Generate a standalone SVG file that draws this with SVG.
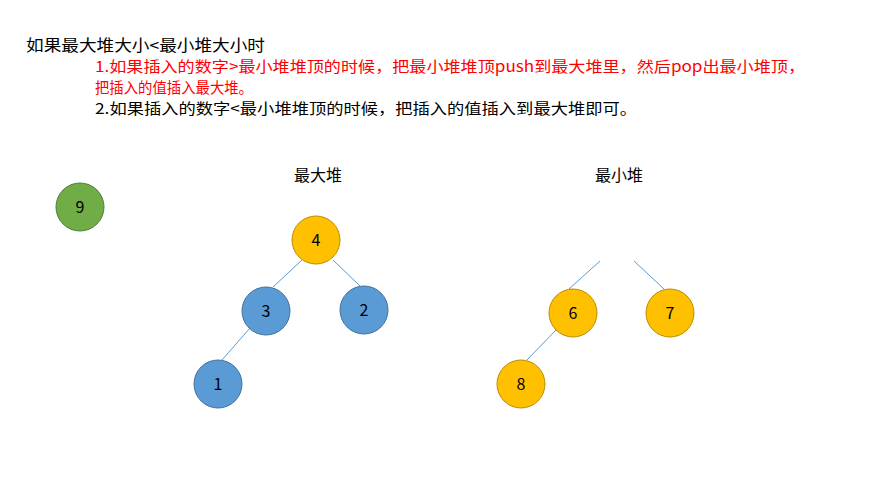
<svg xmlns="http://www.w3.org/2000/svg" width="891" height="477" viewBox="0 0 891 477">
<style>
text{font-family:"Noto Sans CJK SC","Liberation Sans",sans-serif;font-size:16px;fill:#000}
.r{fill:#FF0000}
.s{font-size:15px}
.n text{text-anchor:middle;font-size:16px}
.b circle{fill:#5B9BD5;stroke:#41719C}
.y circle{fill:#FFC000;stroke:#BC8C00}
.g circle{fill:#70AD47;stroke:#507E32}
.e line{stroke:#5B9BD5;stroke-width:1}
</style>
<rect width="891" height="477" fill="#fff"/>
<text x="26" y="51" textLength="239" lengthAdjust="spacingAndGlyphs">如果最大堆大小&lt;最小堆大小时</text>
<text class="r s" x="95" y="72" textLength="710" lengthAdjust="spacingAndGlyphs">1.如果插入的数字&gt;最小堆堆顶的时候，把最小堆堆顶push到最大堆里，然后pop出最小堆顶，</text>
<text class="r s" x="95" y="93" textLength="158" lengthAdjust="spacingAndGlyphs">把插入的值插入最大堆。</text>
<text class="s" x="95" y="114" textLength="542" lengthAdjust="spacingAndGlyphs">2.如果插入的数字&lt;最小堆堆顶的时候，把插入的值插入到最大堆即可。</text>
<text x="318" y="181" text-anchor="middle">最大堆</text>
<text x="619" y="181" text-anchor="middle">最小堆</text>
<g class="e" id="connectors">
<line x1="302" y1="260" x2="273" y2="287"/>
<line x1="333" y1="260" x2="360" y2="286"/>
<line x1="250" y1="328" x2="222" y2="360"/>
<line x1="600" y1="261" x2="569" y2="289"/>
<line x1="634" y1="261" x2="664" y2="289"/>
<line x1="556" y1="330" x2="527" y2="360"/>
</g>
<g id="n9" class="n g"><circle cx="80" cy="207" r="24"/><text x="80" y="213">9</text></g>
<g id="n4" class="n y"><circle cx="316" cy="240" r="24"/><text x="316" y="246">4</text></g>
<g id="n3" class="n b"><circle cx="266" cy="311" r="24"/><text x="266" y="317">3</text></g>
<g id="n2" class="n b"><circle cx="364" cy="310" r="24"/><text x="364" y="316">2</text></g>
<g id="n1" class="n b"><circle cx="218" cy="384" r="24"/><text x="218" y="390">1</text></g>
<g id="n6" class="n y"><circle cx="573" cy="313" r="24"/><text x="573" y="319">6</text></g>
<g id="n7" class="n y"><circle cx="670" cy="313" r="24"/><text x="670" y="319">7</text></g>
<g id="n8" class="n y"><circle cx="521" cy="384" r="24"/><text x="521" y="390">8</text></g>
</svg>
